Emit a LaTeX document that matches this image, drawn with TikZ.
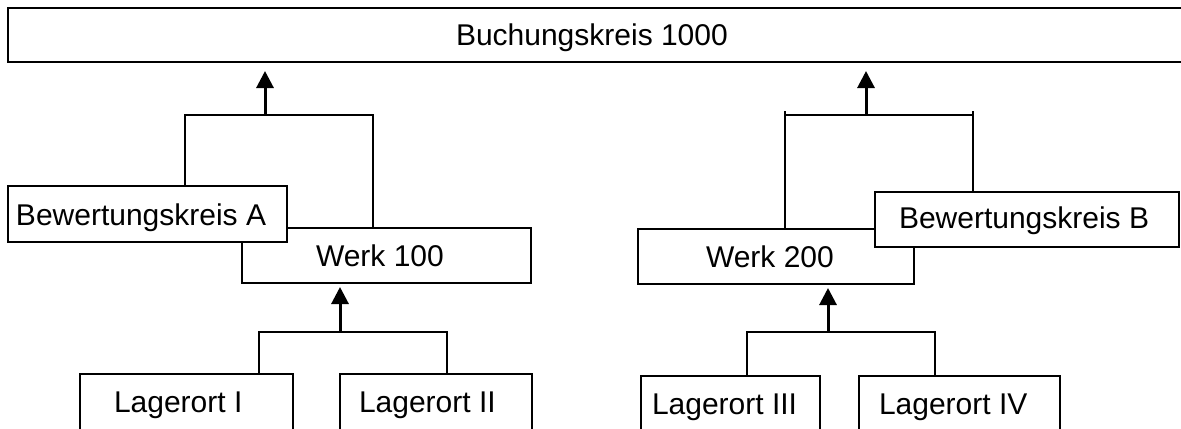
\documentclass[tikz,border=0pt]{standalone}
\usepackage{fontspec}
\setmainfont{Liberation Sans}
\usetikzlibrary{arrows.meta}

\begin{document}
\begin{tikzpicture}[x=0.5pt, y=-0.5pt, line width=1pt,
		kasten/.style={draw, fill=white, inner sep=0pt},
		pfeil/.style={line width=1.5pt, -{Triangle[width=8.5pt,length=8.5pt]}},
		txt/.style={anchor=base west, inner sep=0pt, font=\fontsize{15pt}{18pt}\selectfont}]
				\useasboundingbox (0, 0) rectangle (1181, 428);

				% Kästen
				\node[kasten, minimum width=588.5pt, minimum height=27pt] (BK) at (596.5, 35) {};
				\node[kasten, minimum width=144.5pt, minimum height=27.5pt] (W1) at (386.5, 255.5) {};
				\node[kasten, minimum width=139.5pt, minimum height=28pt] (BA) at (147.5, 214) {};
				\node[kasten, minimum width=138pt, minimum height=27.5pt] (W2) at (776, 256.5) {};
				\node[kasten, minimum width=152pt, minimum height=27.5pt] (BB) at (1027, 219.5) {};
				\node[kasten, minimum width=106.5pt, minimum height=29pt] (L1) at (186.5, 403) {};
				\node[kasten, minimum width=96pt, minimum height=29pt] (L2) at (436, 403) {};
				\node[kasten, minimum width=89.5pt, minimum height=28pt] (L3) at (730.5, 404) {};
				\node[kasten, minimum width=100.5pt, minimum height=28pt] (L4) at (959.5, 404) {};

				% Verzweigungen
				\coordinate (A) at (265, 115);
				\coordinate (Al) at (185, 115);
				\coordinate (Ar) at (373, 115);
				\coordinate (B) at (866, 115);
				\coordinate (Bl) at (785, 111);
				\coordinate (Br) at (973, 111);
				\coordinate (C) at (340, 332);
				\coordinate (Cl) at (259, 332);
				\coordinate (Cr) at (447, 332);
				\coordinate (D) at (828, 332);
				\coordinate (Dl) at (747, 332);
				\coordinate (Dr) at (935, 332);

				% Linien ziehen
				\draw (BA.north -| Al) -- (Al) -- (Ar) -- (W1.north -| Ar);
				\draw (W2.north -| Bl) -- (Bl);
				\draw (BB.north -| Br) -- (Br);
				\draw (Bl |- B) -- (Br |- B);
				\draw (L1.north -| Cl) -- (Cl) -- (Cr) -- (L2.north -| Cr);
				\draw (L3.north -| Dl) -- (Dl) -- (Dr) -- (L4.north -| Dr);

				\draw[pfeil, shorten >=4pt] (A) -- (BK.south -| A);
				\draw[pfeil, shorten >=4pt] (B) -- (BK.south -| B);
				\draw[pfeil, shorten >=1.5pt] (C) -- (W1.south -| C);
				\draw[pfeil, shorten >=1.5pt] (D) -- (W2.south -| D);

				% Beschriftung
				\node[txt] (tBK) at (455, 45) {Buchungskreis 1000};
				\node[txt] (tBA) at (15, 225) {Bewertungskreis A};
				\node[txt] (tW1) at (315, 266) {Werk 100};
				\node[txt] (tL1) at (113, 412) {Lagerort I};
				\node[txt] (tL2) at (358, 412) {Lagerort II};
				\node[txt] (tW2) at (705, 267) {Werk 200};
				\node[txt] (tBB) at (898, 228) {Bewertungskreis B};
				\node[txt] (tL3) at (651, 414) {Lagerort III};
				\node[txt] (tL4) at (878, 414) {Lagerort IV};

			\end{tikzpicture}
\end{document}
